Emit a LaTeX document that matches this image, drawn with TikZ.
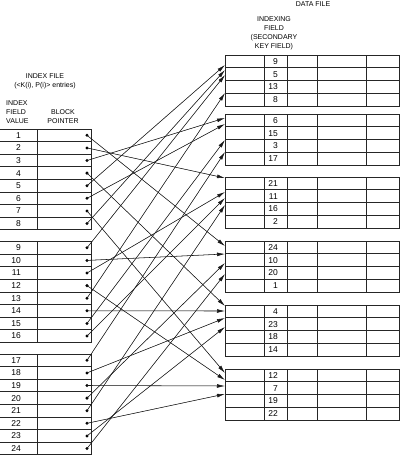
\documentclass[tikz,border=0pt]{standalone}
\usepackage{fontspec}
\setmainfont{Liberation Sans}
\usetikzlibrary{arrows.meta}
\begin{document}
\begin{tikzpicture}[x=1pt,y=-1pt,
  grid/.style={draw=black!85, line width=0.65pt},
  hdr/.style={font=\fontsize{7}{9}\selectfont, align=center, inner sep=0pt},
  num/.style={font=\fontsize{8.5}{10}\selectfont, inner sep=0pt, anchor=east},
  arr/.style={-{Latex[length=8pt,width=3.8pt]}, line width=0.55pt, draw=black!90, fill=black!90},
  dotc/.style={circle, fill=black, inner sep=0pt, minimum size=3.3pt}]
\useasboundingbox (0,0) rectangle (400,456);
% index file groups
\foreach \gi/\tp in {0/129,1/241.5,2/354}{
  \draw[grid] (-1,\tp) rectangle (91,\tp+100.8);
  \draw[grid] (37,\tp) -- (37,\tp+100.8);
  \foreach \ri in {1,...,7} \draw[grid] (-1,\tp+\ri*12.6) -- (91,\tp+\ri*12.6);
}
\foreach \k in {1,...,24}{
  \pgfmathsetmacro\gi{int((\k-1)/8)}
  \pgfmathsetmacro\ri{mod(\k-1,8)}
  \pgfmathsetmacro\yy{129+\gi*112.5+(\ri+0.5)*12.6}
  \node[num] (k\k) at (21,\yy) {\k};
  \node[dotc] (d\k) at (87,\yy) {};
}
% data file blocks
\foreach \tp in {55,114,177,241,305,369}{
  \draw[grid] (225,\tp) rectangle (399.5,\tp+51.2);
  \foreach \x in {264,287,317,366} \draw[grid] (\x,\tp) -- (\x,\tp+51.2);
  \foreach \ri in {1,2,3} \draw[grid] (225,\tp+\ri*12.8) -- (399.5,\tp+\ri*12.8);
}
\foreach \tp/\a/\b/\c/\d in {55/9/5/13/8, 114/6/15/3/17, 177/21/11/16/2, 241/24/10/20/1, 305/4/23/18/14, 369/12/7/19/22}{
  \node[num] (v\a) at (278,\tp+6.4) {\a};
  \node[num] (v\b) at (278,\tp+19.2) {\b};
  \node[num] (v\c) at (278,\tp+32) {\c};
  \node[num] (v\d) at (278,\tp+44.8) {\d};
}
% arrow targets
\foreach \k/\y in {5/65, 8/70, 9/75, 13/93,
                   3/118, 6/124, 15/140, 17/152,
                   2/178, 11/192, 16/198, 21/205,
                   1/246, 10/254, 20/263, 24/274,
                   4/306, 14/311, 18/318, 23/327,
                   7/373, 12/380, 19/386, 22/394}
  \coordinate (t\k) at (225,\y);
\foreach \k in {1,...,24} \draw[arr] (d\k.center) -- (t\k);
% headers
\node[hdr] (df) at (313,4.5) {DATA FILE};
\node[hdr] (ixf) at (274,33.5) {INDEXING\\FIELD\\(SECONDARY\\KEY FIELD)};
\node[hdr] (ifl) at (45,81) {INDEX FILE\\(<K(i), P(i)> entries)};
\node[hdr, align=left, anchor=west] (ifv) at (6,112) {INDEX\\FIELD\\VALUE};
\node[hdr] (bp) at (63,116.5) {BLOCK\\POINTER};
\end{tikzpicture}
\end{document}
